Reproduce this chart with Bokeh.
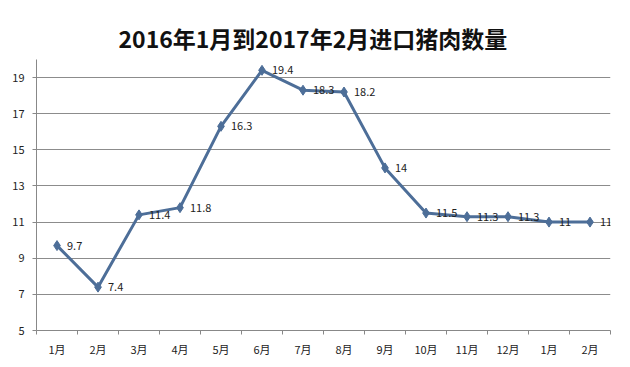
from bokeh.plotting import figure
from bokeh.models import ColumnDataSource, FixedTicker, LabelSet, Range1d
from bokeh.core.properties import value
from bokeh.embed import file_html
from bokeh.resources import INLINE

months = ["1月", "2月", "3月", "4月", "5月", "6月", "7月", "8月", "9月", "10月", "11月", "12月", "1月", "2月"]
values = [9.7, 7.4, 11.4, 11.8, 16.3, 19.4, 18.3, 18.2, 14, 11.5, 11.3, 11.3, 11, 11]
value_labels = ["9.7", "7.4", "11.4", "11.8", "16.3", "19.4", "18.3", "18.2", "14", "11.5", "11.3", "11.3", "11", "11"]
y_ticks = [5, 7, 9, 11, 13, 15, 17, 19]

xs = list(range(1, len(months) + 1))
src = ColumnDataSource(dict(x=xs, y=values, lab=value_labels))

FONT = "Noto Sans CJK SC"
LINE = "#4d6e98"

p = figure(width=614, height=359, output_backend="svg", toolbar_location=None,
           x_range=Range1d(0.5, len(months) + 0.5), y_range=Range1d(5, 20),
           min_border_left=36, min_border_right=4, min_border_top=59, min_border_bottom=21)
p.outline_line_color = None
p.background_fill_color = "white"
p.border_fill_color = "white"

p.title.text = "2016年1月到2017年2月进口猪肉数量"
p.title.text_font = FONT
p.title.text_font_size = "23px"
p.title.text_font_style = "bold"
p.title.align = "left"
p.title.offset = 82
p.title.text_color = "#111111"
p.title.standoff = 10

p.line("x", "y", source=src, line_color=LINE, line_width=3)
p.scatter("x", "y", source=src, marker="diamond", size=10, fill_color=LINE, line_color=LINE)

labels = LabelSet(x="x", y="y", text="lab", source=src, x_offset=10, y_offset=0,
                  text_font=value(FONT), text_font_size=value("11px"), text_color=value("#222222"),
                  text_baseline=value("middle"), text_align=value("left"))
p.add_layout(labels)

# y axis
p.yaxis.ticker = FixedTicker(ticks=y_ticks)
p.yaxis.axis_line_color = "#888888"
p.yaxis.major_tick_line_color = "#888888"
p.yaxis.major_tick_out = 4
p.yaxis.major_tick_in = 0
p.yaxis.minor_tick_line_color = None
p.yaxis.major_label_text_font = FONT
p.yaxis.major_label_text_font_size = "11px"
p.yaxis.major_label_text_color = "#222222"
p.yaxis.major_label_standoff = 8

# x axis: labels at centres, tick marks at boundaries
p.xaxis.ticker = FixedTicker(ticks=xs, minor_ticks=[x + 0.5 for x in range(0, len(months) + 1)])
p.xaxis.major_label_overrides = {x: m for x, m in zip(xs, months)}
p.xaxis.axis_line_color = "#888888"
p.xaxis.major_tick_line_color = None
p.xaxis.minor_tick_line_color = "#888888"
p.xaxis.minor_tick_out = 4
p.xaxis.minor_tick_in = 0
p.xaxis.major_label_text_font = FONT
p.xaxis.major_label_text_font_size = "11px"
p.xaxis.major_label_text_color = "#222222"
p.xaxis.major_label_standoff = 4

p.xgrid.grid_line_color = None
p.ygrid.ticker = FixedTicker(ticks=y_ticks)
p.ygrid.grid_line_color = "#8c8c8c"
p.ygrid.grid_line_width = 1

open("out.html", "w").write(file_html(p, INLINE))
